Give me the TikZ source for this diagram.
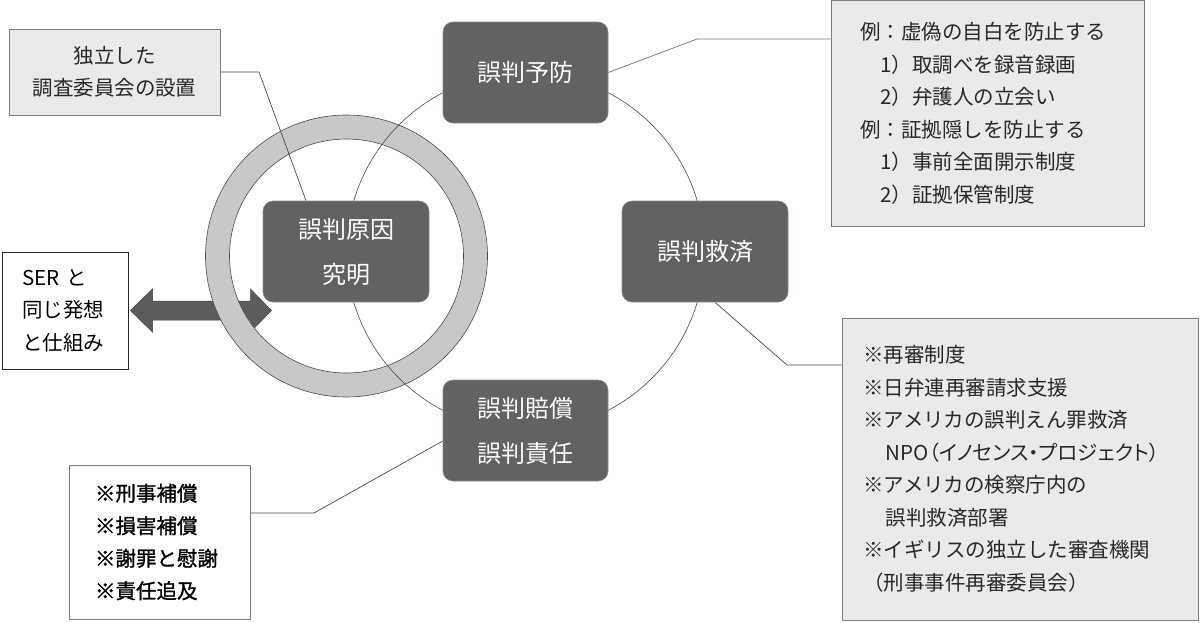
\documentclass[tikz,border=0pt]{standalone}
\usepackage{fontspec}
\setmainfont{Noto Sans CJK JP}
\newfontfamily\jpp[RawFeature=+palt]{Noto Sans CJK JP}
\newfontfamily\jpheavy[FakeBold=1.2]{Noto Sans CJK JP}
\usetikzlibrary{calc}
\pgfdeclarelayer{bg}
\pgfsetlayers{bg,main}
\definecolor{darkc}{RGB}{99,97,99}
\definecolor{darkline}{RGB}{140,140,140}
\definecolor{lightc}{RGB}{234,234,234}
\definecolor{boxline}{RGB}{125,125,125}
\definecolor{ringc}{RGB}{200,200,200}
\definecolor{linec}{RGB}{75,75,75}
\definecolor{textc}{RGB}{40,40,40}
\definecolor{arrowc}{RGB}{92,92,92}
\begin{document}
\begin{tikzpicture}[x=1pt,y=-1pt,
  darkbox/.style={fill=darkc, draw=darkline, line width=0.6pt, rounded corners=10pt,
    minimum width=165pt, minimum height=101pt, inner sep=0pt, text=white,
    align=center, font=\fontsize{24}{45}\selectfont},
  lightbox/.style={fill=lightc, draw=boxline, line width=0.8pt, inner sep=0pt,
    text=textc, font=\fontsize{20.5}{32.5}\selectfont},
  plainbox/.style={fill=white, draw=boxline, line width=0.8pt, inner sep=0pt,
    text=black, font=\fontsize{20.5}{32.5}\selectfont},
  conn/.style={draw=linec, line width=0.7pt},
  ringline/.style={draw=linec, line width=0.6pt}
]
\useasboundingbox (0,0) rectangle (1200,622);
\begin{pgfonlayer}{bg}
  \fill[white] (0,0) rectangle (1200,622);
\end{pgfonlayer}

% coordinates for the ring and the cycle
\coordinate (ringc) at (346.5,256);
\coordinate (cyc) at (525.5,251.5);

% boxes
\node[darkbox] (top) at (525.5,72.5) {誤判予防};
\node[darkbox, minimum width=166pt] (rbox) at (705,251.5) {誤判救済};
\node[darkbox] (bbox) at (525.5,430.5) {誤判賠償\\誤判責任};
\node[darkbox, minimum width=166pt] (cbox) at (346,251.5) {誤判原因\\究明};

\node[lightbox, minimum width=211pt, minimum height=86pt, align=center,
  font=\fontsize{20.5}{32}\selectfont] (tl) at (114.5,72) {独立した\\調査委員会の設置};

\node[plainbox, draw=black!85, line width=1pt, minimum width=126pt, minimum height=117pt,
  text width=86pt, inner xsep=20pt, align=left] (ser) at (65,310.5)
  {SER と\\同じ発想\\と仕組み};

\node[lightbox, minimum width=313pt, minimum height=226pt, text width=255pt,
  inner xsep=29pt, align=left] (tr) at (987.5,113.5)
  {例：虚偽の自白を防止する\\
   \hspace*{1em}1）取調べを録音録画\\
   \hspace*{1em}2）弁護人の立会い\\
   例：証拠隠しを防止する\\
   \hspace*{1em}1）事前全面開示制度\\
   \hspace*{1em}2）証拠保管制度};

\node[lightbox, minimum width=356pt, minimum height=302pt, text width=314pt,
  inner xsep=21pt, align=left] (br) at (1020,469)
  {※再審制度\\
   ※日弁連再審請求支援\\
   ※アメリカの誤判えん罪救済\\
   \hspace*{1.1em}{\jpp NPO（イノセンス・プロジェクト）}\\
   ※アメリカの検察庁内の\\
   \hspace*{1.1em}誤判救済部署\\
   ※イギリスの独立した審査機関\\
   （刑事事件再審委員会）};

\node[plainbox, minimum width=181pt, minimum height=154pt, text width=129pt,
  inner xsep=26pt, align=left, font=\jpheavy\fontsize{20.5}{32.5}\selectfont] (bl) at (159.5,542)
  {※刑事補償\\※損害補償\\※謝罪と慰謝\\※責任追及};

\begin{pgfonlayer}{bg}
  % double block arrow (under the ring), between the SER box and the centre box
  \filldraw[fill=arrowc, draw=black!75, line width=0.5pt]
    ($(ser.east)+(2,0)$) -- ++(22,-21.5) -- ++(0,12) -- ++(98,0) -- ++(0,-12)
    -- ++(21,21.5) -- ++(-21,21.5) -- ++(0,-12) -- ++(-98,0) -- ++(0,12) -- cycle;

  % ring
  \filldraw[fill=ringc, ringline, even odd rule]
    (ringc) circle[radius=141pt] (ringc) circle[radius=117pt];

  % cycle circle through the four boxes
  \draw[conn, line width=0.6pt] (cyc) circle[radius=179pt];

  % connectors
  \draw[conn] (tl.east) -- (259,72) -- ($(cbox.north west)!0.26!(cbox.north east)$);
  \draw[conn, draw=black!55] (top.east) -- (697,39) -- (tr.west |- 697,39);
  \draw[conn] ($(rbox.south)+(10,0)$) -- (787,365) -- (br.west |- 787,365);
  \draw[conn] ($(bbox.west)+(0,10.5)$) -- (314,513) -- (bl.east |- 314,513);
\end{pgfonlayer}
\end{tikzpicture}
\end{document}
